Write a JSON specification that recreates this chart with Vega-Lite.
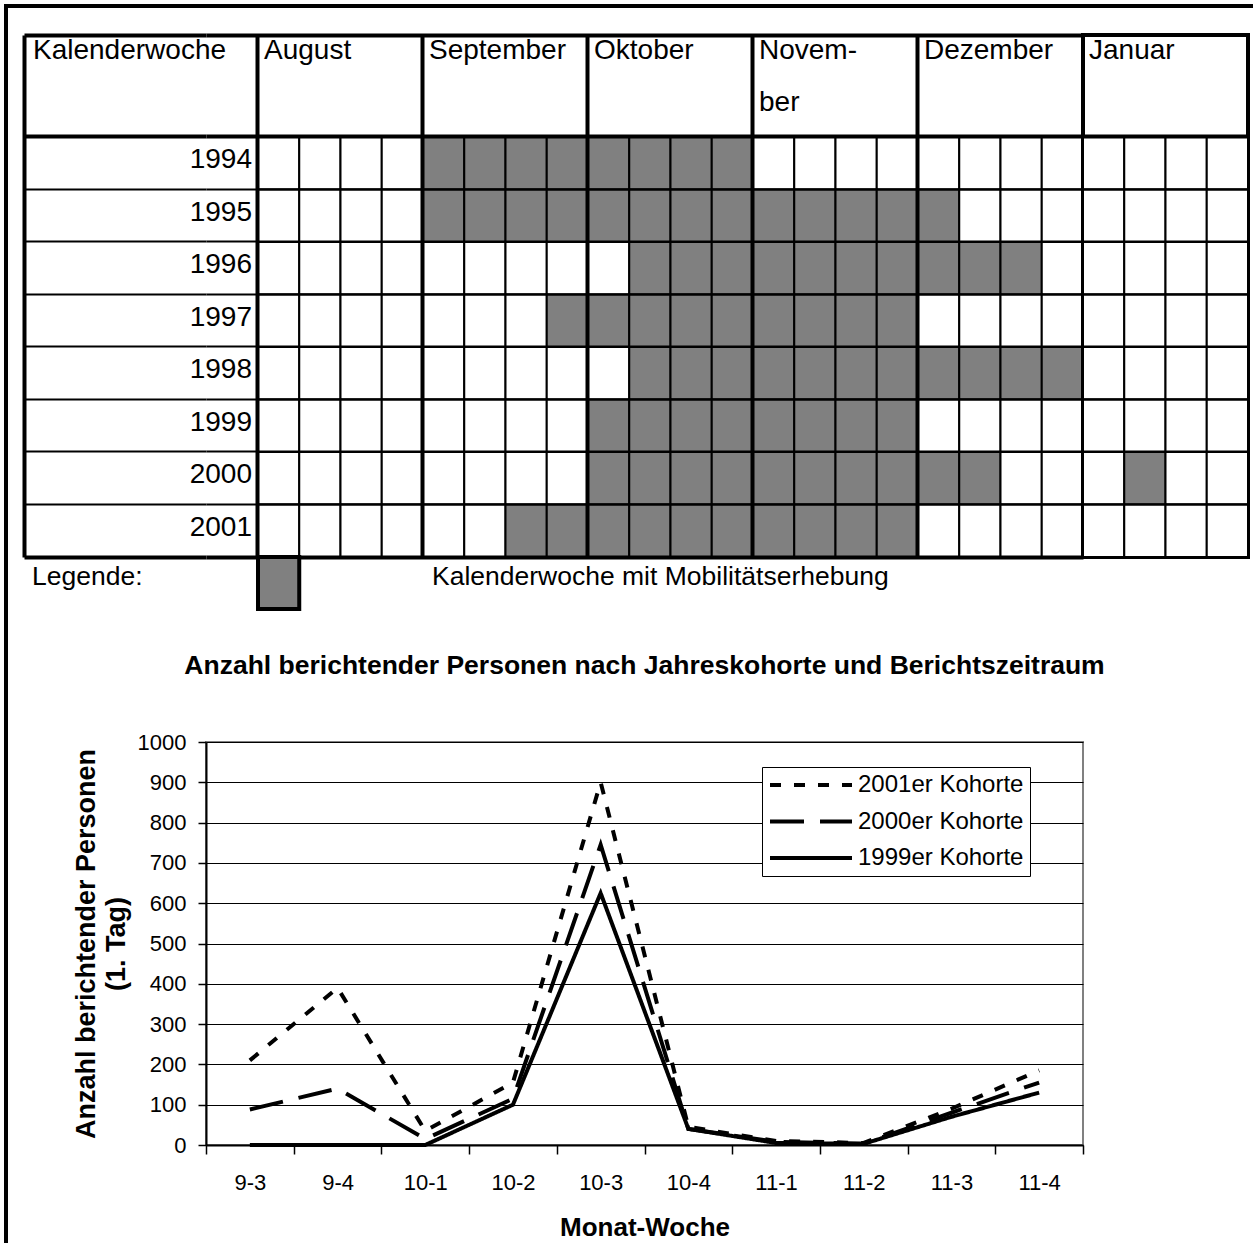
{
  "$schema": "https://vega.github.io/schema/vega-lite/v6.json",
  "padding": {"left": 4, "top": 4, "right": 0, "bottom": 0},
  "background": "white",
  "config": {
    "font": "Liberation Sans",
    "view": {"stroke": null},
    "text": {"color": "black", "font": "Liberation Sans"},
    "axis": {"labelFont": "Liberation Sans", "titleFont": "Liberation Sans", "labelColor": "black", "titleColor": "black"},
    "legend": {"labelFont": "Liberation Sans"},
    "title": {"font": "Liberation Sans", "color": "black"}
  },
  "datasets": {
    "zellen": [
      {"jahr":1994,"woche":1,"erhebung":0},{"jahr":1994,"woche":2,"erhebung":0},{"jahr":1994,"woche":3,"erhebung":0},{"jahr":1994,"woche":4,"erhebung":0},
      {"jahr":1994,"woche":5,"erhebung":1},{"jahr":1994,"woche":6,"erhebung":1},{"jahr":1994,"woche":7,"erhebung":1},{"jahr":1994,"woche":8,"erhebung":1},
      {"jahr":1994,"woche":9,"erhebung":1},{"jahr":1994,"woche":10,"erhebung":1},{"jahr":1994,"woche":11,"erhebung":1},{"jahr":1994,"woche":12,"erhebung":1},
      {"jahr":1994,"woche":13,"erhebung":0},{"jahr":1994,"woche":14,"erhebung":0},{"jahr":1994,"woche":15,"erhebung":0},{"jahr":1994,"woche":16,"erhebung":0},
      {"jahr":1994,"woche":17,"erhebung":0},{"jahr":1994,"woche":18,"erhebung":0},{"jahr":1994,"woche":19,"erhebung":0},{"jahr":1994,"woche":20,"erhebung":0},
      {"jahr":1994,"woche":21,"erhebung":0},{"jahr":1994,"woche":22,"erhebung":0},{"jahr":1994,"woche":23,"erhebung":0},{"jahr":1994,"woche":24,"erhebung":0},
      {"jahr":1995,"woche":1,"erhebung":0},{"jahr":1995,"woche":2,"erhebung":0},{"jahr":1995,"woche":3,"erhebung":0},{"jahr":1995,"woche":4,"erhebung":0},
      {"jahr":1995,"woche":5,"erhebung":1},{"jahr":1995,"woche":6,"erhebung":1},{"jahr":1995,"woche":7,"erhebung":1},{"jahr":1995,"woche":8,"erhebung":1},
      {"jahr":1995,"woche":9,"erhebung":1},{"jahr":1995,"woche":10,"erhebung":1},{"jahr":1995,"woche":11,"erhebung":1},{"jahr":1995,"woche":12,"erhebung":1},
      {"jahr":1995,"woche":13,"erhebung":1},{"jahr":1995,"woche":14,"erhebung":1},{"jahr":1995,"woche":15,"erhebung":1},{"jahr":1995,"woche":16,"erhebung":1},
      {"jahr":1995,"woche":17,"erhebung":1},{"jahr":1995,"woche":18,"erhebung":0},{"jahr":1995,"woche":19,"erhebung":0},{"jahr":1995,"woche":20,"erhebung":0},
      {"jahr":1995,"woche":21,"erhebung":0},{"jahr":1995,"woche":22,"erhebung":0},{"jahr":1995,"woche":23,"erhebung":0},{"jahr":1995,"woche":24,"erhebung":0},
      {"jahr":1996,"woche":1,"erhebung":0},{"jahr":1996,"woche":2,"erhebung":0},{"jahr":1996,"woche":3,"erhebung":0},{"jahr":1996,"woche":4,"erhebung":0},
      {"jahr":1996,"woche":5,"erhebung":0},{"jahr":1996,"woche":6,"erhebung":0},{"jahr":1996,"woche":7,"erhebung":0},{"jahr":1996,"woche":8,"erhebung":0},
      {"jahr":1996,"woche":9,"erhebung":0},{"jahr":1996,"woche":10,"erhebung":1},{"jahr":1996,"woche":11,"erhebung":1},{"jahr":1996,"woche":12,"erhebung":1},
      {"jahr":1996,"woche":13,"erhebung":1},{"jahr":1996,"woche":14,"erhebung":1},{"jahr":1996,"woche":15,"erhebung":1},{"jahr":1996,"woche":16,"erhebung":1},
      {"jahr":1996,"woche":17,"erhebung":1},{"jahr":1996,"woche":18,"erhebung":1},{"jahr":1996,"woche":19,"erhebung":1},{"jahr":1996,"woche":20,"erhebung":0},
      {"jahr":1996,"woche":21,"erhebung":0},{"jahr":1996,"woche":22,"erhebung":0},{"jahr":1996,"woche":23,"erhebung":0},{"jahr":1996,"woche":24,"erhebung":0},
      {"jahr":1997,"woche":1,"erhebung":0},{"jahr":1997,"woche":2,"erhebung":0},{"jahr":1997,"woche":3,"erhebung":0},{"jahr":1997,"woche":4,"erhebung":0},
      {"jahr":1997,"woche":5,"erhebung":0},{"jahr":1997,"woche":6,"erhebung":0},{"jahr":1997,"woche":7,"erhebung":0},{"jahr":1997,"woche":8,"erhebung":1},
      {"jahr":1997,"woche":9,"erhebung":1},{"jahr":1997,"woche":10,"erhebung":1},{"jahr":1997,"woche":11,"erhebung":1},{"jahr":1997,"woche":12,"erhebung":1},
      {"jahr":1997,"woche":13,"erhebung":1},{"jahr":1997,"woche":14,"erhebung":1},{"jahr":1997,"woche":15,"erhebung":1},{"jahr":1997,"woche":16,"erhebung":1},
      {"jahr":1997,"woche":17,"erhebung":0},{"jahr":1997,"woche":18,"erhebung":0},{"jahr":1997,"woche":19,"erhebung":0},{"jahr":1997,"woche":20,"erhebung":0},
      {"jahr":1997,"woche":21,"erhebung":0},{"jahr":1997,"woche":22,"erhebung":0},{"jahr":1997,"woche":23,"erhebung":0},{"jahr":1997,"woche":24,"erhebung":0},
      {"jahr":1998,"woche":1,"erhebung":0},{"jahr":1998,"woche":2,"erhebung":0},{"jahr":1998,"woche":3,"erhebung":0},{"jahr":1998,"woche":4,"erhebung":0},
      {"jahr":1998,"woche":5,"erhebung":0},{"jahr":1998,"woche":6,"erhebung":0},{"jahr":1998,"woche":7,"erhebung":0},{"jahr":1998,"woche":8,"erhebung":0},
      {"jahr":1998,"woche":9,"erhebung":0},{"jahr":1998,"woche":10,"erhebung":1},{"jahr":1998,"woche":11,"erhebung":1},{"jahr":1998,"woche":12,"erhebung":1},
      {"jahr":1998,"woche":13,"erhebung":1},{"jahr":1998,"woche":14,"erhebung":1},{"jahr":1998,"woche":15,"erhebung":1},{"jahr":1998,"woche":16,"erhebung":1},
      {"jahr":1998,"woche":17,"erhebung":1},{"jahr":1998,"woche":18,"erhebung":1},{"jahr":1998,"woche":19,"erhebung":1},{"jahr":1998,"woche":20,"erhebung":1},
      {"jahr":1998,"woche":21,"erhebung":0},{"jahr":1998,"woche":22,"erhebung":0},{"jahr":1998,"woche":23,"erhebung":0},{"jahr":1998,"woche":24,"erhebung":0},
      {"jahr":1999,"woche":1,"erhebung":0},{"jahr":1999,"woche":2,"erhebung":0},{"jahr":1999,"woche":3,"erhebung":0},{"jahr":1999,"woche":4,"erhebung":0},
      {"jahr":1999,"woche":5,"erhebung":0},{"jahr":1999,"woche":6,"erhebung":0},{"jahr":1999,"woche":7,"erhebung":0},{"jahr":1999,"woche":8,"erhebung":0},
      {"jahr":1999,"woche":9,"erhebung":1},{"jahr":1999,"woche":10,"erhebung":1},{"jahr":1999,"woche":11,"erhebung":1},{"jahr":1999,"woche":12,"erhebung":1},
      {"jahr":1999,"woche":13,"erhebung":1},{"jahr":1999,"woche":14,"erhebung":1},{"jahr":1999,"woche":15,"erhebung":1},{"jahr":1999,"woche":16,"erhebung":1},
      {"jahr":1999,"woche":17,"erhebung":0},{"jahr":1999,"woche":18,"erhebung":0},{"jahr":1999,"woche":19,"erhebung":0},{"jahr":1999,"woche":20,"erhebung":0},
      {"jahr":1999,"woche":21,"erhebung":0},{"jahr":1999,"woche":22,"erhebung":0},{"jahr":1999,"woche":23,"erhebung":0},{"jahr":1999,"woche":24,"erhebung":0},
      {"jahr":2000,"woche":1,"erhebung":0},{"jahr":2000,"woche":2,"erhebung":0},{"jahr":2000,"woche":3,"erhebung":0},{"jahr":2000,"woche":4,"erhebung":0},
      {"jahr":2000,"woche":5,"erhebung":0},{"jahr":2000,"woche":6,"erhebung":0},{"jahr":2000,"woche":7,"erhebung":0},{"jahr":2000,"woche":8,"erhebung":0},
      {"jahr":2000,"woche":9,"erhebung":1},{"jahr":2000,"woche":10,"erhebung":1},{"jahr":2000,"woche":11,"erhebung":1},{"jahr":2000,"woche":12,"erhebung":1},
      {"jahr":2000,"woche":13,"erhebung":1},{"jahr":2000,"woche":14,"erhebung":1},{"jahr":2000,"woche":15,"erhebung":1},{"jahr":2000,"woche":16,"erhebung":1},
      {"jahr":2000,"woche":17,"erhebung":1},{"jahr":2000,"woche":18,"erhebung":1},{"jahr":2000,"woche":19,"erhebung":0},{"jahr":2000,"woche":20,"erhebung":0},
      {"jahr":2000,"woche":21,"erhebung":0},{"jahr":2000,"woche":22,"erhebung":1},{"jahr":2000,"woche":23,"erhebung":0},{"jahr":2000,"woche":24,"erhebung":0},
      {"jahr":2001,"woche":1,"erhebung":0},{"jahr":2001,"woche":2,"erhebung":0},{"jahr":2001,"woche":3,"erhebung":0},{"jahr":2001,"woche":4,"erhebung":0},
      {"jahr":2001,"woche":5,"erhebung":0},{"jahr":2001,"woche":6,"erhebung":0},{"jahr":2001,"woche":7,"erhebung":1},{"jahr":2001,"woche":8,"erhebung":1},
      {"jahr":2001,"woche":9,"erhebung":1},{"jahr":2001,"woche":10,"erhebung":1},{"jahr":2001,"woche":11,"erhebung":1},{"jahr":2001,"woche":12,"erhebung":1},
      {"jahr":2001,"woche":13,"erhebung":1},{"jahr":2001,"woche":14,"erhebung":1},{"jahr":2001,"woche":15,"erhebung":1},{"jahr":2001,"woche":16,"erhebung":1},
      {"jahr":2001,"woche":17,"erhebung":0},{"jahr":2001,"woche":18,"erhebung":0},{"jahr":2001,"woche":19,"erhebung":0},{"jahr":2001,"woche":20,"erhebung":0},
      {"jahr":2001,"woche":21,"erhebung":0},{"jahr":2001,"woche":22,"erhebung":0},{"jahr":2001,"woche":23,"erhebung":0},{"jahr":2001,"woche":24,"erhebung":0}
    ],
    "jahre": [
      {"jahr":1994},{"jahr":1995},{"jahr":1996},{"jahr":1997},{"jahr":1998},{"jahr":1999},{"jahr":2000},{"jahr":2001}
    ],
    "monate": [
      {"monat":"August"},{"monat":"September"},{"monat":"Oktober"},{"monat":"Novem-\nber"},{"monat":"Dezember"},{"monat":"Januar"}
    ],
    "kohorten": [
      {"woche":"9-3","kohorte":"2001er Kohorte","anzahl":210},
      {"woche":"9-4","kohorte":"2001er Kohorte","anzahl":390},
      {"woche":"10-1","kohorte":"2001er Kohorte","anzahl":35},
      {"woche":"10-2","kohorte":"2001er Kohorte","anzahl":155},
      {"woche":"10-3","kohorte":"2001er Kohorte","anzahl":900},
      {"woche":"10-4","kohorte":"2001er Kohorte","anzahl":45},
      {"woche":"11-1","kohorte":"2001er Kohorte","anzahl":10},
      {"woche":"11-2","kohorte":"2001er Kohorte","anzahl":5},
      {"woche":"11-3","kohorte":"2001er Kohorte","anzahl":90},
      {"woche":"11-4","kohorte":"2001er Kohorte","anzahl":185},
      {"woche":"9-3","kohorte":"2000er Kohorte","anzahl":88},
      {"woche":"9-4","kohorte":"2000er Kohorte","anzahl":140},
      {"woche":"10-1","kohorte":"2000er Kohorte","anzahl":15},
      {"woche":"10-2","kohorte":"2000er Kohorte","anzahl":115},
      {"woche":"10-3","kohorte":"2000er Kohorte","anzahl":745},
      {"woche":"10-4","kohorte":"2000er Kohorte","anzahl":40},
      {"woche":"11-1","kohorte":"2000er Kohorte","anzahl":8},
      {"woche":"11-2","kohorte":"2000er Kohorte","anzahl":3},
      {"woche":"11-3","kohorte":"2000er Kohorte","anzahl":80},
      {"woche":"11-4","kohorte":"2000er Kohorte","anzahl":155},
      {"woche":"9-3","kohorte":"1999er Kohorte","anzahl":0},
      {"woche":"9-4","kohorte":"1999er Kohorte","anzahl":0},
      {"woche":"10-1","kohorte":"1999er Kohorte","anzahl":0},
      {"woche":"10-2","kohorte":"1999er Kohorte","anzahl":100},
      {"woche":"10-3","kohorte":"1999er Kohorte","anzahl":625},
      {"woche":"10-4","kohorte":"1999er Kohorte","anzahl":40},
      {"woche":"11-1","kohorte":"1999er Kohorte","anzahl":5},
      {"woche":"11-2","kohorte":"1999er Kohorte","anzahl":3},
      {"woche":"11-3","kohorte":"1999er Kohorte","anzahl":70},
      {"woche":"11-4","kohorte":"1999er Kohorte","anzahl":130}
    ]
  },
  "columns": 5,
  "align": "none",
  "bounds": "flush",
  "spacing": 0,
  "concat": [
    {"width": 4, "height": 4, "view": {"fill": "black"}, "data": {"values": [{}]}, "mark": {"type": "rect", "opacity": 0}, "encoding": {}},
    {"width": 16, "height": 4, "view": {"fill": "black"}, "data": {"values": [{}]}, "mark": {"type": "rect", "opacity": 0}, "encoding": {}},
    {"width": 182, "height": 4, "view": {"fill": "black"}, "data": {"values": [{}]}, "mark": {"type": "rect", "opacity": 0}, "encoding": {}},
    {"width": 877, "height": 4, "view": {"fill": "black"}, "data": {"values": [{}]}, "mark": {"type": "rect", "opacity": 0}, "encoding": {}},
    {"width": 170, "height": 4, "view": {"fill": "black"}, "data": {"values": [{}]}, "mark": {"type": "rect", "opacity": 0}, "encoding": {}},

    {"width": 4, "height": 27, "view": {"fill": "black"}, "data": {"values": [{}]}, "mark": {"type": "rect", "opacity": 0}, "encoding": {}},
    {"width": 16, "height": 27, "data": {"values": [{}]}, "mark": {"type": "rect", "opacity": 0}, "encoding": {}},
    {"width": 182, "height": 27, "data": {"values": [{}]}, "mark": {"type": "rect", "opacity": 0}, "encoding": {}},
    {"width": 877, "height": 27, "data": {"values": [{}]}, "mark": {"type": "rect", "opacity": 0}, "encoding": {}},
    {"width": 165, "height": 27, "data": {"values": [{}]}, "mark": {"type": "rect", "opacity": 0}, "encoding": {}},

    {"width": 4, "height": 522, "view": {"fill": "black"}, "data": {"values": [{}]}, "mark": {"type": "rect", "opacity": 0}, "encoding": {}},
    {"width": 16, "height": 522, "data": {"values": [{}]}, "mark": {"type": "rect", "opacity": 0}, "encoding": {}},
    {
      "width": 182, "height": 522,
      "resolve": {"axis": {"x": "independent"}},
      "layer": [
        {
          "data": {"name": "jahre"},
          "mark": {"type": "rect", "opacity": 0},
          "encoding": {
            "y": {"field": "jahr", "type": "ordinal",
                  "scale": {"domain": [1994,1995,1996,1997,1998,1999,2000,2001], "paddingInner": 0, "paddingOuter": 0.9714, "align": 1},
                  "axis": {"orient": "left", "grid": true, "bandPosition": 0, "gridColor": "black", "gridWidth": {"condition": {"test": "datum.value === 1994", "value": 4}, "value": 2}, "domain": true, "domainColor": "black", "domainWidth": 4, "labels": false, "ticks": false, "title": null, "zindex": 1}}
          }
        },
        {
          "data": {"values": [{"kopf": "Kalenderwoche"}]},
          "mark": {"type": "text", "align": "left", "baseline": "alphabetic", "dx": 9, "dy": -78, "fontSize": 28},
          "encoding": {
            "x": {"field": "kopf", "type": "nominal", "bandPosition": 0, "scale": {"type": "band", "paddingInner": 0, "paddingOuter": 0},
                  "axis": {"orient": "bottom", "domain": true, "domainColor": "black", "domainWidth": 4, "labels": false, "ticks": false, "grid": false, "title": null}},
            "y": {"datum": 1994, "type": "ordinal", "bandPosition": 0},
            "text": {"field": "kopf", "type": "nominal"}
          }
        },
        {
          "data": {"values": [{"kopf": "Kalenderwoche"}]},
          "mark": {"type": "rect", "opacity": 0},
          "encoding": {
            "x": {"field": "kopf", "type": "nominal",
                  "axis": {"orient": "top", "domain": true, "domainColor": "black", "domainWidth": 4, "labels": false, "ticks": false, "grid": false, "title": null}}
          }
        }
      ]
    },
    {
      "width": 877, "height": 522,
      "resolve": {"scale": {"x": "independent"}},
      "layer": [
        {
          "layer": [
            {
              "data": {"name": "zellen"},
              "transform": [{"filter": "datum.woche <= 20"}],
              "mark": {"type": "rect", "stroke": "black", "strokeWidth": 2},
              "encoding": {
                "x": {"field": "woche", "type": "ordinal",
                      "scale": {"domain": [1,2,3,4,5,6,7,8,9,10,11,12,13,14,15,16,17,18,19,20], "paddingInner": 0, "paddingOuter": 0.6303, "align": 1},
                      "axis": {"orient": "bottom", "grid": true, "values": [1,5,9,13,17], "bandPosition": 0, "gridColor": "black", "gridWidth": 4, "domain": true, "domainColor": "black", "domainWidth": 4, "labels": false, "ticks": false, "title": null, "zindex": 1}},
                "y": {"field": "jahr", "type": "ordinal",
                      "scale": {"domain": [1994,1995,1996,1997,1998,1999,2000,2001], "paddingInner": 0, "paddingOuter": 0.9714, "align": 1},
                      "axis": {"grid": true, "bandPosition": 0, "gridColor": "black", "gridWidth": {"condition": {"test": "datum.value === 1994", "value": 4}, "value": 2}, "domain": false, "labels": false, "ticks": false, "title": null, "zindex": 1}},
                "fill": {"field": "erhebung", "type": "nominal", "scale": {"domain": [0, 1], "range": ["white", "#808080"]}, "legend": null}
              }
            },
            {
              "data": {"name": "jahre"},
              "mark": {"type": "text", "align": "right", "baseline": "alphabetic", "dx": -6, "dy": 5, "fontSize": 28},
              "encoding": {
                "x": {"datum": 1, "type": "ordinal", "bandPosition": 0},
                "y": {"field": "jahr", "type": "ordinal"},
                "text": {"field": "jahr", "type": "nominal"}
              }
            }
          ]
        },
        {
          "data": {"name": "monate"},
          "transform": [{"filter": "datum.monat !== 'Januar'"}],
          "mark": {"type": "text", "align": "left", "baseline": "alphabetic", "dx": 6, "dy": -78, "fontSize": 28, "lineBreak": "\n", "lineHeight": 52},
          "encoding": {
            "x": {"field": "monat", "type": "nominal", "sort": null, "bandPosition": 0,
                  "scale": {"type": "band", "paddingInner": 0, "paddingOuter": 0.1576, "align": 1},
                  "axis": {"orient": "top", "domain": true, "domainColor": "black", "domainWidth": 4, "labels": false, "ticks": false, "grid": false, "title": null}},
            "y": {"datum": 1994, "type": "ordinal", "bandPosition": 0},
            "text": {"field": "monat", "type": "nominal"}
          }
        }
      ]
    },
    {
      "width": 165, "height": 522,
      "view": {"stroke": "black", "strokeWidth": 4},
      "resolve": {"scale": {"x": "independent"}},
      "layer": [
        {
          "data": {"name": "zellen"},
          "transform": [{"filter": "datum.woche > 20"}],
          "mark": {"type": "rect", "stroke": "black", "strokeWidth": 2},
          "encoding": {
            "x": {"field": "woche", "type": "ordinal", "scale": {"domain": [21,22,23,24], "paddingInner": 0, "paddingOuter": 0}, "axis": null},
            "y": {"field": "jahr", "type": "ordinal",
                  "scale": {"domain": [1994,1995,1996,1997,1998,1999,2000,2001], "paddingInner": 0, "paddingOuter": 0.9714, "align": 1},
                  "axis": {"grid": true, "bandPosition": 0, "gridColor": "black", "gridWidth": {"condition": {"test": "datum.value === 1994", "value": 4}, "value": 2}, "domain": false, "labels": false, "ticks": false, "title": null, "zindex": 1}},
            "fill": {"field": "erhebung", "type": "nominal", "scale": {"domain": [0, 1], "range": ["white", "#808080"]}, "legend": null}
          }
        },
        {
          "data": {"name": "monate"},
          "transform": [{"filter": "datum.monat === 'Januar'"}],
          "mark": {"type": "text", "align": "left", "baseline": "alphabetic", "dx": 6, "dy": -78, "fontSize": 28},
          "encoding": {
            "x": {"field": "monat", "type": "nominal", "bandPosition": 0, "scale": {"type": "band", "paddingInner": 0, "paddingOuter": 0}, "axis": null},
            "y": {"datum": 1994, "type": "ordinal", "bandPosition": 0},
            "text": {"field": "monat", "type": "nominal"}
          }
        }
      ]
    },

    {"width": 4, "height": 52, "view": {"fill": "black"}, "data": {"values": [{}]}, "mark": {"type": "rect", "opacity": 0}, "encoding": {}},
    {"width": 16, "height": 52, "data": {"values": [{}]}, "mark": {"type": "rect", "opacity": 0}, "encoding": {}},
    {
      "width": 182, "height": 52,
      "data": {"values": [{"eintrag": "Legende:"}]},
      "mark": {"type": "text", "align": "left", "baseline": "alphabetic", "dx": 8, "dy": 2, "fontSize": 26.5},
      "encoding": {
        "x": {"field": "eintrag", "type": "nominal", "bandPosition": 0, "scale": {"type": "band", "paddingInner": 0, "paddingOuter": 0}, "axis": null},
        "text": {"field": "eintrag", "type": "nominal"}
      }
    },
    {
      "width": 877, "height": 52,
      "layer": [
        {
          "data": {"values": [{"eintrag": "Kalenderwoche mit Mobilitätserhebung"}]},
          "mark": {"type": "rect", "fill": "#808080", "stroke": "black", "strokeWidth": 4},
          "encoding": {
            "x": {"datum": 1, "type": "ordinal", "scale": {"domain": [1,2,3,4,5,6,7,8,9,10,11,12,13,14,15,16,17,18,19,20], "paddingInner": 0, "paddingOuter": 0.6303, "align": 1}, "axis": null}
          }
        },
        {
          "data": {"values": [{"eintrag": "Kalenderwoche mit Mobilitätserhebung"}]},
          "mark": {"type": "text", "align": "left", "baseline": "alphabetic", "dx": 9, "dy": 2, "fontSize": 26.5},
          "encoding": {
            "x": {"datum": 5, "type": "ordinal", "bandPosition": 0},
            "text": {"field": "eintrag", "type": "nominal"}
          }
        }
      ]
    },
    {"width": 165, "height": 52, "data": {"values": [{}]}, "mark": {"type": "rect", "opacity": 0}, "encoding": {}},

    {"width": 4, "height": 133, "view": {"fill": "black"}, "data": {"values": [{}]}, "mark": {"type": "rect", "opacity": 0}, "encoding": {}},
    {"width": 16, "height": 133, "data": {"values": [{}]}, "mark": {"type": "rect", "opacity": 0}, "encoding": {}},
    {"width": 182, "height": 133, "data": {"values": [{}]}, "mark": {"type": "rect", "opacity": 0}, "encoding": {}},
    {"width": 877, "height": 133, "data": {"values": [{}]}, "mark": {"type": "rect", "opacity": 0}, "encoding": {}},
    {"width": 165, "height": 133, "data": {"values": [{}]}, "mark": {"type": "rect", "opacity": 0}, "encoding": {}},

    {"width": 4, "height": 403, "view": {"fill": "black"}, "data": {"values": [{}]}, "mark": {"type": "rect", "opacity": 0}, "encoding": {}},
    {"width": 16, "height": 403, "data": {"values": [{}]}, "mark": {"type": "rect", "opacity": 0}, "encoding": {}},
    {"width": 182, "height": 403, "data": {"values": [{}]}, "mark": {"type": "rect", "opacity": 0}, "encoding": {}},
    {
      "width": 877, "height": 403,
      "view": {"stroke": "#808080", "strokeWidth": 2},
      "title": {"text": "Anzahl berichtender Personen nach Jahreskohorte und Berichtszeitraum", "fontSize": 26.5, "fontWeight": "bold", "anchor": "middle", "frame": "group", "baseline": "alphabetic", "offset": 31, "color": "black"},
      "data": {"name": "kohorten"},
      "mark": {"type": "line", "strokeWidth": 4, "color": "black", "strokeCap": "butt", "strokeJoin": "miter"},
      "encoding": {
        "x": {
          "field": "woche", "type": "ordinal",
          "sort": ["9-3","9-4","10-1","10-2","10-3","10-4","11-1","11-2","11-3","11-4"],
          "scale": {"type": "band", "paddingInner": 0, "paddingOuter": 0},
          "axis": {"title": "Monat-Woche", "labelAngle": 0, "labelFontSize": 22, "labelPadding": 18, "tickBand": "extent", "tickSize": 9, "tickColor": "black", "tickWidth": 1.5, "domainColor": "black", "domainWidth": 2, "titleFontSize": 26, "titleFontWeight": "bold", "titlePadding": 21, "grid": false}
        },
        "y": {
          "field": "anzahl", "type": "quantitative",
          "scale": {"domain": [0, 1000], "nice": false},
          "axis": {"title": ["Anzahl berichtender Personen", "(1. Tag)"], "titleFontSize": 27, "titleFontWeight": "bold", "titleLineHeight": 30, "titlePadding": 7, "values": [0,100,200,300,400,500,600,700,800,900,1000], "format": "d", "labelFontSize": 22, "labelPadding": 12, "tickSize": 8, "tickColor": "black", "tickWidth": 1.5, "domainColor": "black", "domainWidth": 2, "grid": true, "gridColor": "black", "gridWidth": 1}
        },
        "strokeDash": {
          "field": "kohorte", "type": "nominal",
          "scale": {"domain": ["2001er Kohorte", "2000er Kohorte", "1999er Kohorte"], "range": [[11, 13], [34, 16], [1, 0]]},
          "legend": {"title": null, "orient": "none", "legendX": 758, "legendY": 763, "direction": "vertical", "symbolType": "stroke", "symbolSize": 6724, "symbolStrokeWidth": 4, "symbolStrokeColor": "black", "labelFontSize": 24, "labelColor": "black", "labelOffset": 4, "padding": 6, "strokeColor": "black", "fillColor": "white", "clipHeight": 24, "rowPadding": 12.5, "labelLimit": 400}
        }
      }
    },
    {"width": 165, "height": 403, "data": {"values": [{}]}, "mark": {"type": "rect", "opacity": 0}, "encoding": {}},

    {"width": 4, "height": 98, "view": {"fill": "black"}, "data": {"values": [{}]}, "mark": {"type": "rect", "opacity": 0}, "encoding": {}},
    {"width": 16, "height": 98, "data": {"values": [{}]}, "mark": {"type": "rect", "opacity": 0}, "encoding": {}},
    {"width": 182, "height": 98, "data": {"values": [{}]}, "mark": {"type": "rect", "opacity": 0}, "encoding": {}},
    {"width": 877, "height": 98, "data": {"values": [{}]}, "mark": {"type": "rect", "opacity": 0}, "encoding": {}},
    {"width": 165, "height": 98, "data": {"values": [{}]}, "mark": {"type": "rect", "opacity": 0}, "encoding": {}}
  ]
}
